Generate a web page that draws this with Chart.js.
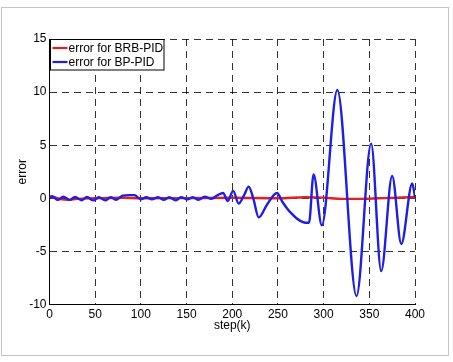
<!DOCTYPE html>
<html>
<head>
<meta charset="utf-8">
<script src="https://cdn.jsdelivr.net/npm/chart.js@4"></script>
<style>
html,body{margin:0;padding:0;background:#fff;}
#wrap{width:453px;height:362px;position:relative;}
</style>
</head>
<body>
<div id="wrap"><canvas id="c" width="453" height="362"></canvas></div>
<script>
const seriesLabels = ['error for BRB-PID', 'error for BP-PID'];
const seriesColors = ['#e61e1e', '#1e1ee6'];

const redSteps = [0, 5, 12, 20, 30, 50, 80, 100, 150, 200, 250, 280, 300, 320, 340, 360, 380, 400];
const redError = [0.15, 0.1, -0.08, -0.15, -0.05, 0, 0.05, 0, 0.02, 0.05, 0, 0.1, 0.06, -0.05, -0.05, 0, 0.05, 0.12];

const blueSteps = [0, 3, 9, 15, 22, 28, 35, 41, 48, 54, 61, 67, 73, 80, 87, 93, 100, 106, 112, 119, 125, 131, 138, 144, 151, 157, 163, 170, 177, 184, 190, 195, 201, 207, 213, 218, 223, 229, 238, 249, 255, 260, 265, 270, 275, 280, 284, 289, 298, 315, 336, 352, 363, 375, 385, 397, 400];
const blueError = [0.1, 0.2, -0.15, 0.15, -0.15, 0.12, -0.18, 0.12, -0.2, 0.1, -0.2, 0.1, -0.15, 0.25, 0.3, 0.3, -0.1, 0.1, -0.1, 0.1, -0.15, 0.1, -0.2, 0.1, -0.1, 0.1, -0.15, 0.15, -0.05, 0.3, 0.5, -0.25, 0.7, -0.5, 0.3, 1.1, 0, -1.8, -0.6, 0.5, -0.35, -0.95, -1.45, -1.85, -2.15, -2.3, -2.3, 2.25, -2.55, 10.2, -9.2, 5.15, -6.85, 2.1, -4.3, 1.4, 0.1];

const xMin = 0, xMax = 400, xStep = 50;
const yMin = -10, yMax = 15, yStep = 5;

const FONT = 'Liberation Sans, Arial, sans-serif';

const framePlugin = {
  id: 'frame',
  beforeDraw(chart) {
    const ctx = chart.ctx;
    ctx.save();
    ctx.strokeStyle = '#c4c4c4';
    ctx.lineWidth = 1;
    ctx.strokeRect(1.5, 7.5, 447, 348);
    ctx.restore();
  }
};

const legendPlugin = {
  id: 'boxLegend',
  afterDraw(chart) {
    const ctx = chart.ctx;
    const a = chart.chartArea;
    const x0 = Math.round(a.left) + 0.5, y0 = Math.round(a.top) + 0.5;
    ctx.save();
    ctx.fillStyle = '#fff';
    ctx.fillRect(x0, y0, 113.5, 30.5);
    ctx.strokeStyle = '#000';
    ctx.lineWidth = 1;
    ctx.strokeRect(x0, y0, 113.5, 30.5);
    ctx.font = '12px ' + FONT;
    ctx.textBaseline = 'middle';
    chart.data.datasets.forEach((ds, i) => {
      const y = y0 + 8.5 + i * 14;
      ctx.strokeStyle = ds.borderColor;
      ctx.lineWidth = 2.2;
      ctx.beginPath();
      ctx.moveTo(x0 + 2, y);
      ctx.lineTo(x0 + 17, y);
      ctx.stroke();
      ctx.fillStyle = '#000';
      ctx.fillText(ds.label, x0 + 18, y + 0.5);
    });
    ctx.restore();
  }
};

new Chart(document.getElementById('c'), {
  type: 'line',
  data: {
    datasets: [
      {
        label: seriesLabels[0],
        data: redSteps.map((s, i) => ({x: s, y: redError[i]})),
        borderColor: seriesColors[0],
        borderWidth: 2.4,
        pointRadius: 0,
        cubicInterpolationMode: 'monotone',
        order: 2
      },
      {
        label: seriesLabels[1],
        data: blueSteps.map((s, i) => ({x: s, y: blueError[i]})),
        borderColor: seriesColors[1],
        borderWidth: 2.4,
        pointRadius: 0,
        cubicInterpolationMode: 'monotone',
        order: 1
      }
    ]
  },
  options: {
    responsive: false,
    animation: false,
    devicePixelRatio: 1,
    layout: {padding: {left: 0, right: 38, top: 39, bottom: 17.5}},
    plugins: {legend: {display: false}, tooltip: {enabled: false}},
    scales: {
      x: {
        type: 'linear',
        min: xMin, max: xMax,
        afterFit(s) { s.height = 40; },
        ticks: {stepSize: xStep, padding: 3, color: '#000', font: {family: FONT, size: 12}, maxRotation: 0},
        grid: {color: 'rgba(0,0,0,0.8)', drawTicks: false, tickLength: 0},
        border: {display: true, color: '#000', width: 1, dash: [7, 5]},
        title: {display: true, text: 'step(k)', color: '#000', font: {family: FONT, size: 12}, padding: {top: 0, bottom: 12}}
      },
      y: {
        type: 'linear',
        min: yMin, max: yMax,
        afterFit(s) { s.width = 49.5; },
        ticks: {stepSize: yStep, padding: 3, color: '#000', font: {family: FONT, size: 12}},
        grid: {color: 'rgba(0,0,0,0.8)', drawTicks: false, tickLength: 0},
        border: {display: true, color: '#000', width: 1, dash: [7, 5]},
        title: {display: true, text: 'error', color: '#000', font: {family: FONT, size: 12}, padding: {top: 15.5, bottom: 0}}
      }
    }
  },
  plugins: [framePlugin, legendPlugin]
});
</script>
</body>
</html>
